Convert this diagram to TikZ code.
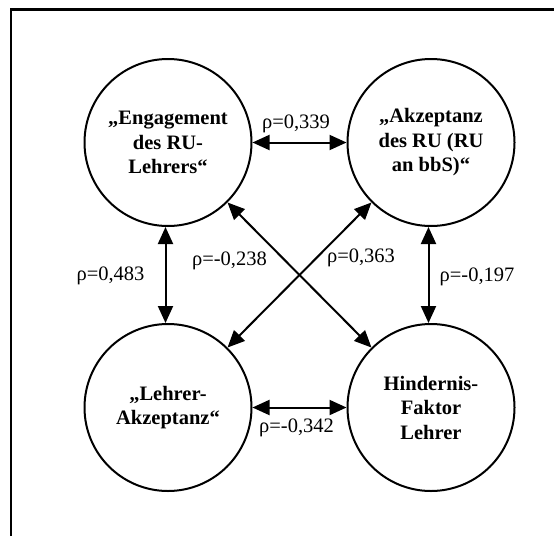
\documentclass[tikz,border=0pt]{standalone}
\usepackage{fontspec}
\setmainfont{Liberation Serif}
\usetikzlibrary{arrows.meta}
\begin{document}
\begin{tikzpicture}[x=1pt,y=-1pt,
  factor/.style={circle, draw, line width=2pt, minimum size=167pt, inner sep=0pt,
    align=center, font=\fontsize{20.5}{24.5}\selectfont\bfseries},
  corr/.style={line width=2pt,
    {Triangle[length=17pt,width=15pt]}-{Triangle[length=17pt,width=15pt]}},
  coef/.style={anchor=base, inner sep=0pt, font=\fontsize{20.5}{24.5}\selectfont}]
\useasboundingbox (0,0) rectangle (554,536);
% frame (top and left edges)
\draw[line width=2.2pt] (11,536) -- (11,9.5) -- (554,9.5);

% factors
\node[factor] (eng) at (168,142.5) {„Engagement\\des RU-\\Lehrers“};
\node[factor] (akz) at (431,142.5) {„Akzeptanz\\des RU (RU\\an bbS)“};
\node[factor] (lak) at (168,407.5) {„Lehrer-\\Akzeptanz“};
\node[factor] (hin) at (431,407.5) {Hindernis-\\Faktor\\Lehrer};

% correlations
\draw[corr] (eng.east) -- (akz.west);
\draw[corr] (lak.east) -- (hin.west);
\draw[corr] ([xshift=-2.5pt]eng.south) -- ([xshift=-2.5pt]lak.north);
\draw[corr] ([xshift=-2.5pt]akz.south) -- ([xshift=-2.5pt]hin.north);
\draw[corr] (eng) -- (hin);
\draw[corr] (akz) -- (lak);

% coefficients
\node[coef] (r1) at (296,128.5) {ρ=0,339};
\node[coef] (r2) at (110.5,280) {ρ=0,483};
\node[coef] (r3) at (229.5,265) {ρ=-0,238};
\node[coef] (r4) at (361,262.5) {ρ=0,363};
\node[coef] (r5) at (477,281) {ρ=-0,197};
\node[coef] (r6) at (296.5,432.5) {ρ=-0,342};
\end{tikzpicture}
\end{document}
